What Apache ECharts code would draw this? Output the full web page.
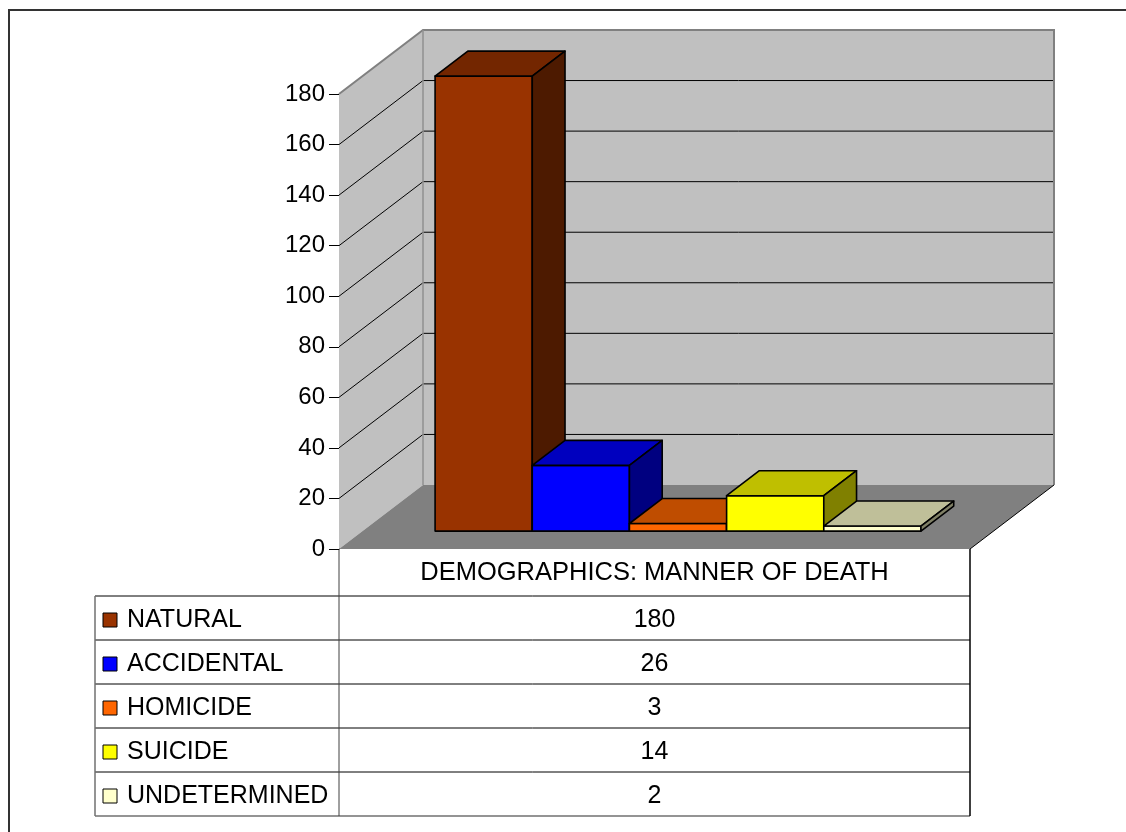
<!DOCTYPE html>
<html>
<head>
<meta charset="utf-8">
<title>Manner of death</title>
<script src="https://cdn.jsdelivr.net/npm/echarts@6/dist/echarts.min.js"></script>
<style>
  html, body { margin: 0; padding: 0; background: #fff; }
  #chart { width: 1126px; height: 832px; }
</style>
</head>
<body>
<div id="chart"></div>
<script>
// data
const groupName = 'DEMOGRAPHICS: MANNER OF DEATH'
const mannerNames = ['NATURAL', 'ACCIDENTAL', 'HOMICIDE', 'SUICIDE', 'UNDETERMINED']
const mannerCounts = [180, 26, 3, 14, 2]
const yTicks = [0, 20, 40, 60, 80, 100, 120, 140, 160, 180]

// look
const FONT = '"Liberation Sans", Arial, sans-serif'
const frontColors = ['#993300', '#0000ff', '#ff6600', '#ffff00', '#ffffcc']
const DEPTH = [84, -64]          // offset from front plane to back wall
const BAR_T0 = 0.28, BAR_T1 = 0.67 // bar front / back as part of the depth
const BAR_FRAC = 0.154          // one bar's width as part of the category band

const GRID = { left: 339, right: 970, top: 94, bottom: 549 }
const TABLE = { left: 95, bodyTop: 596, rowH: 44 }

function shade(hex, k) {
  const n = parseInt(hex.slice(1), 16)
  const r = Math.round(((n >> 16) & 255) * k)
  const g = Math.round(((n >> 8) & 255) * k)
  const b = Math.round((n & 255) * k)
  return 'rgb(' + r + ',' + g + ',' + b + ')'
}

function poly(points, fill, stroke, lw) {
  return {
    type: 'polygon',
    shape: { points: points },
    style: { fill: fill, stroke: stroke || null, lineWidth: lw || 0, lineJoin: 'round' }
  }
}

function line(x1, y1, x2, y2, color, lw) {
  return {
    type: 'line',
    shape: { x1: x1, y1: y1, x2: x2, y2: y2 },
    style: { stroke: color, lineWidth: lw || 1 }
  }
}

// back wall, side wall, floor and the 3d grid lines
function renderWalls(params, api) {
  const base = api.coord([0, yTicks[0]])
  const top = api.coord([0, yTicks[yTicks.length - 1]])
  const bw = api.size([1, 0])[0]
  const x0 = base[0] - bw / 2, x1 = base[0] + bw / 2
  const y0 = base[1], y1 = top[1]
  const dx = DEPTH[0], dy = DEPTH[1]
  const kids = []

  kids.push(poly([[x0, y0], [x0, y1], [x0 + dx, y1 + dy], [x0 + dx, y0 + dy]], '#c0c0c0'))
  kids.push(poly([[x0 + dx, y1 + dy], [x1 + dx, y1 + dy], [x1 + dx, y0 + dy], [x0 + dx, y0 + dy]], '#c0c0c0'))
  kids.push(poly([[x0, y0], [x1, y0], [x1 + dx, y0 + dy], [x0 + dx, y0 + dy]], '#808080'))

  yTicks.slice(1, -1).forEach(v => {
    const y = api.coord([0, v])[1]
    kids.push(line(x0, y, x0 + dx, y + dy, '#000', 1))
    kids.push(line(x0 + dx, y + dy, x1 + dx, y + dy, '#000', 1))
  })

  kids.push({
    type: 'polyline',
    shape: { points: [[x0, y1], [x0 + dx, y1 + dy], [x1 + dx, y1 + dy], [x1 + dx, y0 + dy]] },
    style: { stroke: '#808080', lineWidth: 2, fill: null }
  })
  kids.push(line(x0 + dx, y1 + dy, x0 + dx, y0 + dy, '#909090', 1.5))
  kids.push(line(x1 + dx, y0 + dy, x1, y0, '#000', 1))
  return { type: 'group', children: kids, silent: true }
}

// one 3d column per manner
function renderBar(params, api) {
  const i = api.value(2)
  const c = api.coord([0, 0])
  const t = api.coord([0, api.value(1)])
  const bw = api.size([1, 0])[0]
  const w = bw * BAR_FRAC
  const gap = (bw - w * mannerNames.length) / 2
  const xl = c[0] - bw / 2 + gap + i * w
  const fx = DEPTH[0] * BAR_T0, fy = DEPTH[1] * BAR_T0
  const bx = DEPTH[0] * (BAR_T1 - BAR_T0), by = DEPTH[1] * (BAR_T1 - BAR_T0)

  const L = xl + fx, R = xl + w + fx
  const B = c[1] + fy, T = t[1] + fy
  const col = frontColors[i]
  return {
    type: 'group',
    children: [
      poly([[L, T], [R, T], [R, B], [L, B]], col, '#000', 1.6),
      poly([[L, T], [L + bx, T + by], [R + bx, T + by], [R, T]], shade(col, 0.75), '#000', 1.6),
      poly([[R, T], [R + bx, T + by], [R + bx, B + by], [R, B]], shade(col, 0.5), '#000', 1.6)
    ]
  }
}

// data table under the chart, with legend keys
function tableGraphics() {
  const g = []
  const n = mannerNames.length
  const bottom = TABLE.bodyTop + n * TABLE.rowH
  const midX = (GRID.left + GRID.right) / 2

  for (let r = 0; r <= n; r++) {
    const y = TABLE.bodyTop + r * TABLE.rowH
    g.push({ type: 'line', shape: { x1: TABLE.left, y1: y, x2: GRID.right, y2: y },
      style: { stroke: r === n ? '#707070' : '#000', lineWidth: r === n ? 1.5 : 1 } })
  }
  g.push({ type: 'line', shape: { x1: TABLE.left, y1: TABLE.bodyTop, x2: TABLE.left, y2: bottom },
    style: { stroke: '#707070', lineWidth: 1.5 } })
  g.push({ type: 'line', shape: { x1: GRID.left, y1: GRID.bottom, x2: GRID.left, y2: bottom },
    style: { stroke: '#404040', lineWidth: 1 } })
  g.push({ type: 'line', shape: { x1: GRID.right, y1: GRID.bottom, x2: GRID.right, y2: bottom },
    style: { stroke: '#000', lineWidth: 1.5 } })

  mannerNames.forEach((name, i) => {
    const cy = TABLE.bodyTop + i * TABLE.rowH + TABLE.rowH / 2 + 2
    g.push({ type: 'rect', shape: { x: 103, y: cy - 7, width: 14, height: 14 },
      style: { fill: frontColors[i], stroke: '#000', lineWidth: 1 } })
    g.push({ type: 'text', x: 127, y: cy,
      style: { text: name, font: '25px ' + FONT, fill: '#000', textVerticalAlign: 'middle' } })
    g.push({ type: 'text', x: midX, y: cy,
      style: { text: String(mannerCounts[i]), font: '25px ' + FONT, fill: '#000',
        textAlign: 'center', textVerticalAlign: 'middle' } })
  })

  // outer frame (left and top edges are what shows)
  g.push({ type: 'polyline', shape: { points: [[9, 840], [9, 10], [1140, 10]] },
    style: { stroke: '#333', lineWidth: 2, fill: null } })
  return g
}

const chart = echarts.init(document.getElementById('chart'))

chart.setOption({
  animation: false,
  backgroundColor: '#fff',
  grid: {
    left: GRID.left,
    right: 1126 - GRID.right,
    top: GRID.top,
    bottom: 832 - GRID.bottom
  },
  xAxis: {
    type: 'category',
    data: [groupName],
    axisLine: { show: false },
    axisTick: { show: false },
    axisLabel: { fontSize: 25.5, fontFamily: FONT, color: '#000', margin: 11 }
  },
  yAxis: {
    type: 'value',
    min: yTicks[0],
    max: yTicks[yTicks.length - 1],
    interval: yTicks[1] - yTicks[0],
    axisLine: { show: true, lineStyle: { color: '#404040', width: 1 } },
    axisTick: { show: true, length: 10, lineStyle: { color: '#000' } },
    axisLabel: { fontSize: 24, fontFamily: FONT, color: '#000', margin: 14 },
    splitLine: { show: false }
  },
  series: [
    {
      type: 'custom',
      name: 'walls',
      z: 1,
      renderItem: renderWalls,
      data: [[0, 0]],
      encode: { x: 0, y: 1 },
      silent: true
    },
    {
      type: 'custom',
      name: groupName,
      z: 2,
      renderItem: renderBar,
      data: mannerCounts.map((v, i) => [0, v, i]),
      encode: { x: 0, y: 1 }
    }
  ],
  graphic: tableGraphics()
})
</script>
</body>
</html>
